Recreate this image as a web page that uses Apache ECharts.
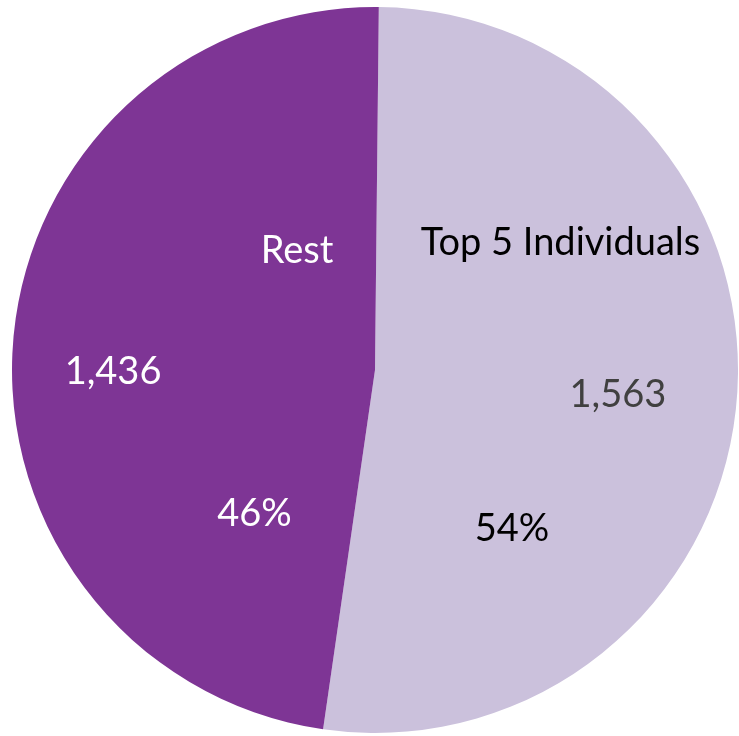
<!DOCTYPE html>
<html>
<head>
<meta charset="utf-8">
<script src="https://cdn.jsdelivr.net/npm/echarts@6/dist/echarts.min.js"></script>
<style>
html,body{margin:0;padding:0;background:#fff;}
#main{width:739px;height:736px;}
</style>
</head>
<body>
<div id="main"></div>
<script>
const categories = ['Top 5 Individuals', 'Rest'];
const values = [1563, 1436];
const percentLabels = ['54%', '46%'];

const colors = ['#CBC1DC', '#7E3595'];
const FONT = 'Lato';
const FS = 38;
const center = [375, 370];
const radius = 363;
const startAngle = 89.4;

const nameStyle = [
  { color: '#000000', offset: [1.5, -141] },
  { color: '#FFFFFF', offset: [106, -105] }
];
const valueStyle = [
  { color: '#404040', offset: [59, 10.6] },
  { color: '#FFFFFF', offset: [-78, 16.4] }
];
const pctStyle = [
  { color: '#000000', offset: [-47, 144.6] },
  { color: '#FFFFFF', offset: [63.5, 158.4] }
];

function buildData(styles, textFn, visible) {
  return categories.map((name, i) => ({
    name: name,
    value: values[i],
    itemStyle: visible ? { color: colors[i] } : { color: 'rgba(0,0,0,0)' },
    label: {
      show: true,
      position: 'inside',
      formatter: textFn(i),
      color: styles[i].color,
      offset: styles[i].offset,
      fontFamily: FONT,
      fontSize: FS,
      fontWeight: 'normal'
    }
  }));
}

function pieSeries(styles, textFn, visible) {
  return {
    type: 'pie',
    center: center,
    radius: [0, radius],
    startAngle: startAngle,
    clockwise: true,
    silent: !visible,
    animation: false,
    avoidLabelOverlap: false,
    labelLine: { show: false },
    emphasis: { disabled: true },
    itemStyle: { borderWidth: 0 },
    z: visible ? 1 : 2,
    data: buildData(styles, textFn, visible)
  };
}

const chart = echarts.init(document.getElementById('main'), null, { renderer: 'canvas' });
chart.setOption({
  backgroundColor: '#ffffff',
  animation: false,
  series: [
    pieSeries(nameStyle, i => categories[i], true),
    pieSeries(valueStyle, i => values[i].toLocaleString('en-US'), false),
    pieSeries(pctStyle, i => percentLabels[i], false)
  ]
});
</script>
</body>
</html>
